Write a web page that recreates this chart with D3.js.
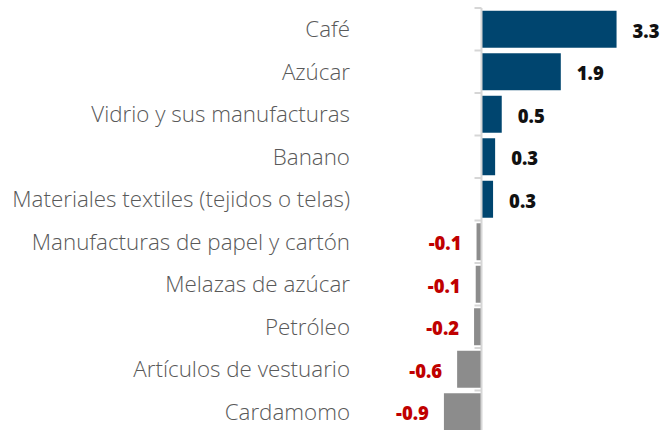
<!DOCTYPE html>
<html><head><meta charset="utf-8">
<script src="https://cdn.jsdelivr.net/npm/d3@7"></script>
<style>body{margin:0;background:#fff}svg{display:block}</style>
</head><body>
<svg id="c" width="669" height="430"></svg>
<script>
const categories = ["Café","Azúcar","Vidrio y sus manufacturas","Banano","Materiales textiles (tejidos o telas)","Manufacturas de papel y cartón","Melazas de azúcar","Petróleo","Artículos de vestuario","Cardamomo"];
const values = [3.27,1.92,0.49,0.33,0.28,-0.12,-0.14,-0.18,-0.59,-0.91];
const valueLabels = ["3.3","1.9","0.5","0.3","0.3","-0.1","-0.1","-0.2","-0.6","-0.9"];

const svg = d3.select("#c");
const x = d3.scaleLinear().domain([0,1]).range([481.5,522.8]);
const y = d3.scaleBand().domain(categories).range([8,433]).paddingInner(0.13).paddingOuter(0.065);

svg.selectAll("rect.bar").data(categories).join("rect")
  .attr("x",(d,i)=>Math.min(x(0),x(values[i])))
  .attr("width",(d,i)=>Math.abs(x(values[i])-x(0)))
  .attr("y",d=>y(d)).attr("height",y.bandwidth())
  .attr("fill",(d,i)=>values[i]>=0?"#00456f":"#8c8c8c");

const step = y.step();
const bounds = d3.range(categories.length+1).map(i=>8+i*step);
svg.append("line").attr("x1",x(0)).attr("x2",x(0)).attr("y1",8).attr("y2",433)
  .attr("stroke","#d6d6d6").attr("stroke-width",2);
svg.selectAll("line.tick").data(bounds).join("line")
  .attr("x1",x(0)-7).attr("x2",x(0)).attr("y1",d=>d).attr("y2",d=>d)
  .attr("stroke","#d6d6d6").attr("stroke-width",2);

const cats = svg.selectAll("text.cat").data(categories).join("text")
  .attr("x",350).attr("y",d=>y(d)+y.bandwidth()/2).attr("dy","0.35em")
  .attr("text-anchor","end").attr("fill","#595959")
  .style("font-family","'Open Sans'").style("font-weight",300).style("font-size","20px")
  .text(d=>d);
// fit longest label to reference width
const w = cats.nodes()[4].getComputedTextLength();
cats.style("font-size",(20*338/w)+"px");

const vals = svg.selectAll("text.val").data(categories).join("text")
  .attr("x",(d,i)=>values[i]>=0?x(values[i])+16:x(values[i])-15)
  .attr("y",d=>y(d)+y.bandwidth()/2+2).attr("dy","0.35em")
  .attr("text-anchor",(d,i)=>values[i]>=0?"start":"end")
  .attr("fill",(d,i)=>values[i]>=0?"#111":"#c00000")
  .style("font-family","'Open Sans'").style("font-weight",800).style("font-size","16px")
  .text((d,i)=>valueLabels[i]);
const vw = vals.nodes()[0].getComputedTextLength();
vals.style("font-size",(16*27/vw)+"px");
</script>
</body></html>
